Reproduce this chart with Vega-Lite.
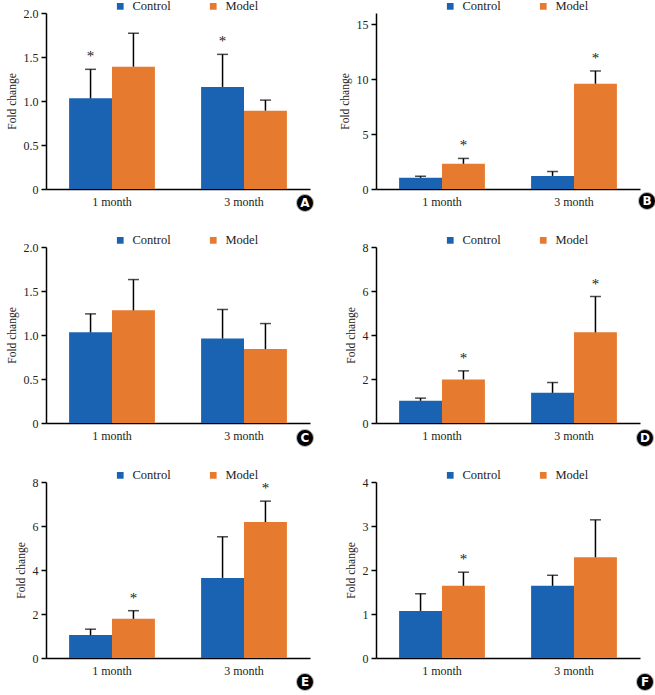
{
  "$schema": "https://vega.github.io/schema/vega-lite/v6.json",
  "padding": {"left": 6, "top": 0, "right": 0, "bottom": 0},
  "background": "white",
  "datasets": {
    "d": [
      {"panel": "A", "month": "1 month", "group": "Control", "mean": 1.03, "upper": 1.36, "star": "*"},
      {"panel": "A", "month": "1 month", "group": "Model", "mean": 1.39, "upper": 1.77, "star": ""},
      {"panel": "A", "month": "3 month", "group": "Control", "mean": 1.16, "upper": 1.53, "star": "*"},
      {"panel": "A", "month": "3 month", "group": "Model", "mean": 0.89, "upper": 1.01, "star": ""},
      {"panel": "B", "month": "1 month", "group": "Control", "mean": 1.02, "upper": 1.16, "star": ""},
      {"panel": "B", "month": "1 month", "group": "Model", "mean": 2.29, "upper": 2.78, "star": "*"},
      {"panel": "B", "month": "3 month", "group": "Control", "mean": 1.19, "upper": 1.59, "star": ""},
      {"panel": "B", "month": "3 month", "group": "Model", "mean": 9.57, "upper": 10.73, "star": "*"},
      {"panel": "C", "month": "1 month", "group": "Control", "mean": 1.03, "upper": 1.24, "star": ""},
      {"panel": "C", "month": "1 month", "group": "Model", "mean": 1.28, "upper": 1.63, "star": ""},
      {"panel": "C", "month": "3 month", "group": "Control", "mean": 0.96, "upper": 1.29, "star": ""},
      {"panel": "C", "month": "3 month", "group": "Model", "mean": 0.84, "upper": 1.13, "star": ""},
      {"panel": "D", "month": "1 month", "group": "Control", "mean": 1.01, "upper": 1.13, "star": ""},
      {"panel": "D", "month": "1 month", "group": "Model", "mean": 1.98, "upper": 2.37, "star": "*"},
      {"panel": "D", "month": "3 month", "group": "Control", "mean": 1.37, "upper": 1.84, "star": ""},
      {"panel": "D", "month": "3 month", "group": "Model", "mean": 4.12, "upper": 5.75, "star": "*"},
      {"panel": "E", "month": "1 month", "group": "Control", "mean": 1.04, "upper": 1.31, "star": ""},
      {"panel": "E", "month": "1 month", "group": "Model", "mean": 1.78, "upper": 2.15, "star": "*"},
      {"panel": "E", "month": "3 month", "group": "Control", "mean": 3.64, "upper": 5.51, "star": ""},
      {"panel": "E", "month": "3 month", "group": "Model", "mean": 6.18, "upper": 7.13, "star": "*"},
      {"panel": "F", "month": "1 month", "group": "Control", "mean": 1.07, "upper": 1.46, "star": ""},
      {"panel": "F", "month": "1 month", "group": "Model", "mean": 1.64, "upper": 1.95, "star": "*"},
      {"panel": "F", "month": "3 month", "group": "Control", "mean": 1.64, "upper": 1.88, "star": ""},
      {"panel": "F", "month": "3 month", "group": "Model", "mean": 2.29, "upper": 3.14, "star": ""}
    ]
  },
  "columns": 2,
  "spacing": {"row": 20, "column": 23},
  "resolve": {"scale": {"color": "independent"}, "legend": {"color": "independent"}},
  "concat": [
    {
      "width": 264, "height": 176,
      "data": {"name": "d"},
      "transform": [{"filter": "datum.panel === 'A'"}],
      "encoding": {
        "x": {"field": "month", "type": "nominal", "scale": {"paddingInner": 0.35, "paddingOuter": 0.175}, "axis": {"title": null, "labelAngle": 0, "ticks": false, "labelPadding": 7}},
        "xOffset": {"field": "group", "type": "nominal", "scale": {"paddingInner": 0, "paddingOuter": 0}}
      },
      "layer": [
        {"mark": {"type": "bar"}, "encoding": {
          "y": {"field": "mean", "type": "quantitative", "scale": {"domain": [0, 2]}, "axis": {"title": "Fold change", "values": [0, 0.5, 1, 1.5, 2], "labelExpr": "datum.value === 0 ? '0' : format(datum.value, '.1f')"}},
          "color": {"field": "group", "type": "nominal", "scale": {"domain": ["Control", "Model"], "range": ["#1a63b2", "#e67a2f"]}, "legend": {"orient": "none", "legendX": 68, "legendY": -13, "direction": "horizontal", "title": null}}}},
        {"mark": {"type": "rule", "color": "black", "strokeWidth": 1.5}, "encoding": {"y": {"field": "mean", "type": "quantitative"}, "y2": {"field": "upper"}}},
        {"mark": {"type": "tick", "orient": "horizontal", "color": "black", "size": 11, "thickness": 1.5}, "encoding": {"y": {"field": "upper", "type": "quantitative"}}},
        {"mark": {"type": "text", "font": "Liberation Serif, DejaVu Serif, serif", "fontSize": 15, "dy": -5, "baseline": "bottom", "color": "#222"}, "encoding": {"y": {"field": "upper", "type": "quantitative"}, "text": {"field": "star"}}},
        {"transform": [{"filter": "datum.month === '3 month' && datum.group === 'Model'"}], "mark": {"type": "point", "shape": "circle", "filled": true, "color": "black", "size": 290, "opacity": 1, "xOffset": -5, "yOffset": 14, "stroke": "#bbb", "strokeWidth": 1}, "encoding": {"x": {"value": "width"}, "y": {"value": "height"}, "xOffset": null}},
        {"transform": [{"filter": "datum.month === '3 month' && datum.group === 'Model'"}], "mark": {"type": "text", "color": "white", "font": "DejaVu Sans", "fontWeight": "bold", "fontSize": 12, "xOffset": -5, "yOffset": 14, "align": "center", "baseline": "middle"}, "encoding": {"x": {"value": "width"}, "y": {"value": "height"}, "xOffset": null, "text": {"field": "panel"}}}
      ]
    },
    {
      "width": 264, "height": 176,
      "data": {"name": "d"},
      "transform": [{"filter": "datum.panel === 'B'"}],
      "encoding": {
        "x": {"field": "month", "type": "nominal", "scale": {"paddingInner": 0.35, "paddingOuter": 0.175}, "axis": {"title": null, "labelAngle": 0, "ticks": false, "labelPadding": 7}},
        "xOffset": {"field": "group", "type": "nominal", "scale": {"paddingInner": 0, "paddingOuter": 0}}
      },
      "layer": [
        {"mark": {"type": "bar"}, "encoding": {
          "y": {"field": "mean", "type": "quantitative", "scale": {"domain": [0, 15]}, "axis": {"title": "Fold change", "values": [0, 5, 10, 15]}},
          "color": {"field": "group", "type": "nominal", "scale": {"domain": ["Control", "Model"], "range": ["#1a63b2", "#e67a2f"]}, "legend": {"orient": "none", "legendX": 68, "legendY": -13, "direction": "horizontal", "title": null}}}},
        {"mark": {"type": "rule", "color": "black", "strokeWidth": 1.5}, "encoding": {"y": {"field": "mean", "type": "quantitative"}, "y2": {"field": "upper"}}},
        {"mark": {"type": "tick", "orient": "horizontal", "color": "black", "size": 11, "thickness": 1.5}, "encoding": {"y": {"field": "upper", "type": "quantitative"}}},
        {"mark": {"type": "text", "font": "Liberation Serif, DejaVu Serif, serif", "fontSize": 15, "dy": -5, "baseline": "bottom", "color": "#222"}, "encoding": {"y": {"field": "upper", "type": "quantitative"}, "text": {"field": "star"}}},
        {"transform": [{"filter": "datum.month === '3 month' && datum.group === 'Model'"}], "mark": {"type": "point", "shape": "circle", "filled": true, "color": "black", "size": 290, "opacity": 1, "xOffset": 7, "yOffset": 12, "stroke": "#bbb", "strokeWidth": 1}, "encoding": {"x": {"value": "width"}, "y": {"value": "height"}, "xOffset": null}},
        {"transform": [{"filter": "datum.month === '3 month' && datum.group === 'Model'"}], "mark": {"type": "text", "color": "white", "font": "DejaVu Sans", "fontWeight": "bold", "fontSize": 12, "xOffset": 7, "yOffset": 12, "align": "center", "baseline": "middle"}, "encoding": {"x": {"value": "width"}, "y": {"value": "height"}, "xOffset": null, "text": {"field": "panel"}}}
      ]
    },
    {
      "width": 264, "height": 176,
      "data": {"name": "d"},
      "transform": [{"filter": "datum.panel === 'C'"}],
      "encoding": {
        "x": {"field": "month", "type": "nominal", "scale": {"paddingInner": 0.35, "paddingOuter": 0.175}, "axis": {"title": null, "labelAngle": 0, "ticks": false, "labelPadding": 7}},
        "xOffset": {"field": "group", "type": "nominal", "scale": {"paddingInner": 0, "paddingOuter": 0}}
      },
      "layer": [
        {"mark": {"type": "bar"}, "encoding": {
          "y": {"field": "mean", "type": "quantitative", "scale": {"domain": [0, 2]}, "axis": {"title": "Fold change", "values": [0, 0.5, 1, 1.5, 2], "labelExpr": "datum.value === 0 ? '0' : format(datum.value, '.1f')"}},
          "color": {"field": "group", "type": "nominal", "scale": {"domain": ["Control", "Model"], "range": ["#1a63b2", "#e67a2f"]}, "legend": {"orient": "none", "legendX": 68, "legendY": -13, "direction": "horizontal", "title": null}}}},
        {"mark": {"type": "rule", "color": "black", "strokeWidth": 1.5}, "encoding": {"y": {"field": "mean", "type": "quantitative"}, "y2": {"field": "upper"}}},
        {"mark": {"type": "tick", "orient": "horizontal", "color": "black", "size": 11, "thickness": 1.5}, "encoding": {"y": {"field": "upper", "type": "quantitative"}}},
        {"transform": [{"filter": "datum.month === '3 month' && datum.group === 'Model'"}], "mark": {"type": "point", "shape": "circle", "filled": true, "color": "black", "size": 290, "opacity": 1, "xOffset": -5, "yOffset": 15, "stroke": "#bbb", "strokeWidth": 1}, "encoding": {"x": {"value": "width"}, "y": {"value": "height"}, "xOffset": null}},
        {"transform": [{"filter": "datum.month === '3 month' && datum.group === 'Model'"}], "mark": {"type": "text", "color": "white", "font": "DejaVu Sans", "fontWeight": "bold", "fontSize": 12, "xOffset": -5, "yOffset": 15, "align": "center", "baseline": "middle"}, "encoding": {"x": {"value": "width"}, "y": {"value": "height"}, "xOffset": null, "text": {"field": "panel"}}}
      ]
    },
    {
      "width": 264, "height": 176,
      "data": {"name": "d"},
      "transform": [{"filter": "datum.panel === 'D'"}],
      "encoding": {
        "x": {"field": "month", "type": "nominal", "scale": {"paddingInner": 0.35, "paddingOuter": 0.175}, "axis": {"title": null, "labelAngle": 0, "ticks": false, "labelPadding": 7}},
        "xOffset": {"field": "group", "type": "nominal", "scale": {"paddingInner": 0, "paddingOuter": 0}}
      },
      "layer": [
        {"mark": {"type": "bar"}, "encoding": {
          "y": {"field": "mean", "type": "quantitative", "scale": {"domain": [0, 8]}, "axis": {"title": "Fold change", "values": [0, 2, 4, 6, 8]}},
          "color": {"field": "group", "type": "nominal", "scale": {"domain": ["Control", "Model"], "range": ["#1a63b2", "#e67a2f"]}, "legend": {"orient": "none", "legendX": 68, "legendY": -13, "direction": "horizontal", "title": null}}}},
        {"mark": {"type": "rule", "color": "black", "strokeWidth": 1.5}, "encoding": {"y": {"field": "mean", "type": "quantitative"}, "y2": {"field": "upper"}}},
        {"mark": {"type": "tick", "orient": "horizontal", "color": "black", "size": 11, "thickness": 1.5}, "encoding": {"y": {"field": "upper", "type": "quantitative"}}},
        {"mark": {"type": "text", "font": "Liberation Serif, DejaVu Serif, serif", "fontSize": 15, "dy": -5, "baseline": "bottom", "color": "#222"}, "encoding": {"y": {"field": "upper", "type": "quantitative"}, "text": {"field": "star"}}},
        {"transform": [{"filter": "datum.month === '3 month' && datum.group === 'Model'"}], "mark": {"type": "point", "shape": "circle", "filled": true, "color": "black", "size": 290, "opacity": 1, "xOffset": 5, "yOffset": 15, "stroke": "#bbb", "strokeWidth": 1}, "encoding": {"x": {"value": "width"}, "y": {"value": "height"}, "xOffset": null}},
        {"transform": [{"filter": "datum.month === '3 month' && datum.group === 'Model'"}], "mark": {"type": "text", "color": "white", "font": "DejaVu Sans", "fontWeight": "bold", "fontSize": 12, "xOffset": 5, "yOffset": 15, "align": "center", "baseline": "middle"}, "encoding": {"x": {"value": "width"}, "y": {"value": "height"}, "xOffset": null, "text": {"field": "panel"}}}
      ]
    },
    {
      "width": 264, "height": 176,
      "data": {"name": "d"},
      "transform": [{"filter": "datum.panel === 'E'"}],
      "encoding": {
        "x": {"field": "month", "type": "nominal", "scale": {"paddingInner": 0.35, "paddingOuter": 0.175}, "axis": {"title": null, "labelAngle": 0, "ticks": false, "labelPadding": 7}},
        "xOffset": {"field": "group", "type": "nominal", "scale": {"paddingInner": 0, "paddingOuter": 0}}
      },
      "layer": [
        {"mark": {"type": "bar"}, "encoding": {
          "y": {"field": "mean", "type": "quantitative", "scale": {"domain": [0, 8]}, "axis": {"title": "Fold change", "values": [0, 2, 4, 6, 8]}},
          "color": {"field": "group", "type": "nominal", "scale": {"domain": ["Control", "Model"], "range": ["#1a63b2", "#e67a2f"]}, "legend": {"orient": "none", "legendX": 68, "legendY": -13, "direction": "horizontal", "title": null}}}},
        {"mark": {"type": "rule", "color": "black", "strokeWidth": 1.5}, "encoding": {"y": {"field": "mean", "type": "quantitative"}, "y2": {"field": "upper"}}},
        {"mark": {"type": "tick", "orient": "horizontal", "color": "black", "size": 11, "thickness": 1.5}, "encoding": {"y": {"field": "upper", "type": "quantitative"}}},
        {"mark": {"type": "text", "font": "Liberation Serif, DejaVu Serif, serif", "fontSize": 15, "dy": -5, "baseline": "bottom", "color": "#222"}, "encoding": {"y": {"field": "upper", "type": "quantitative"}, "text": {"field": "star"}}},
        {"transform": [{"filter": "datum.month === '3 month' && datum.group === 'Model'"}], "mark": {"type": "point", "shape": "circle", "filled": true, "color": "black", "size": 290, "opacity": 1, "xOffset": -5, "yOffset": 24, "stroke": "#bbb", "strokeWidth": 1}, "encoding": {"x": {"value": "width"}, "y": {"value": "height"}, "xOffset": null}},
        {"transform": [{"filter": "datum.month === '3 month' && datum.group === 'Model'"}], "mark": {"type": "text", "color": "white", "font": "DejaVu Sans", "fontWeight": "bold", "fontSize": 12, "xOffset": -5, "yOffset": 24, "align": "center", "baseline": "middle"}, "encoding": {"x": {"value": "width"}, "y": {"value": "height"}, "xOffset": null, "text": {"field": "panel"}}}
      ]
    },
    {
      "width": 264, "height": 176,
      "data": {"name": "d"},
      "transform": [{"filter": "datum.panel === 'F'"}],
      "encoding": {
        "x": {"field": "month", "type": "nominal", "scale": {"paddingInner": 0.35, "paddingOuter": 0.175}, "axis": {"title": null, "labelAngle": 0, "ticks": false, "labelPadding": 7}},
        "xOffset": {"field": "group", "type": "nominal", "scale": {"paddingInner": 0, "paddingOuter": 0}}
      },
      "layer": [
        {"mark": {"type": "bar"}, "encoding": {
          "y": {"field": "mean", "type": "quantitative", "scale": {"domain": [0, 4]}, "axis": {"title": "Fold change", "values": [0, 1, 2, 3, 4]}},
          "color": {"field": "group", "type": "nominal", "scale": {"domain": ["Control", "Model"], "range": ["#1a63b2", "#e67a2f"]}, "legend": {"orient": "none", "legendX": 68, "legendY": -13, "direction": "horizontal", "title": null}}}},
        {"mark": {"type": "rule", "color": "black", "strokeWidth": 1.5}, "encoding": {"y": {"field": "mean", "type": "quantitative"}, "y2": {"field": "upper"}}},
        {"mark": {"type": "tick", "orient": "horizontal", "color": "black", "size": 11, "thickness": 1.5}, "encoding": {"y": {"field": "upper", "type": "quantitative"}}},
        {"mark": {"type": "text", "font": "Liberation Serif, DejaVu Serif, serif", "fontSize": 15, "dy": -5, "baseline": "bottom", "color": "#222"}, "encoding": {"y": {"field": "upper", "type": "quantitative"}, "text": {"field": "star"}}},
        {"transform": [{"filter": "datum.month === '3 month' && datum.group === 'Model'"}], "mark": {"type": "point", "shape": "circle", "filled": true, "color": "black", "size": 290, "opacity": 1, "xOffset": 5, "yOffset": 24, "stroke": "#bbb", "strokeWidth": 1}, "encoding": {"x": {"value": "width"}, "y": {"value": "height"}, "xOffset": null}},
        {"transform": [{"filter": "datum.month === '3 month' && datum.group === 'Model'"}], "mark": {"type": "text", "color": "white", "font": "DejaVu Sans", "fontWeight": "bold", "fontSize": 12, "xOffset": 5, "yOffset": 24, "align": "center", "baseline": "middle"}, "encoding": {"x": {"value": "width"}, "y": {"value": "height"}, "xOffset": null, "text": {"field": "panel"}}}
      ]
    }
  ],
  "config": {
    "view": {"stroke": null},
    "axis": {"grid": false, "domainColor": "black", "domainWidth": 1.5, "tickColor": "black", "tickWidth": 1.5, "tickSize": 5, "labelColor": "#222", "titleColor": "#222", "labelFont": "Liberation Serif, DejaVu Serif, serif", "titleFont": "Liberation Serif, DejaVu Serif, serif", "labelFontSize": 12, "titleFontSize": 11.5, "titleFontWeight": "normal", "labelPadding": 3, "titlePadding": 6},
    "legend": {"symbolType": "square", "symbolSize": 45, "symbolStrokeWidth": 0, "labelFont": "Liberation Serif, DejaVu Serif, serif", "labelFontSize": 12.5, "labelColor": "#222", "labelOffset": 6, "columnPadding": 36, "padding": 0}
  }
}
